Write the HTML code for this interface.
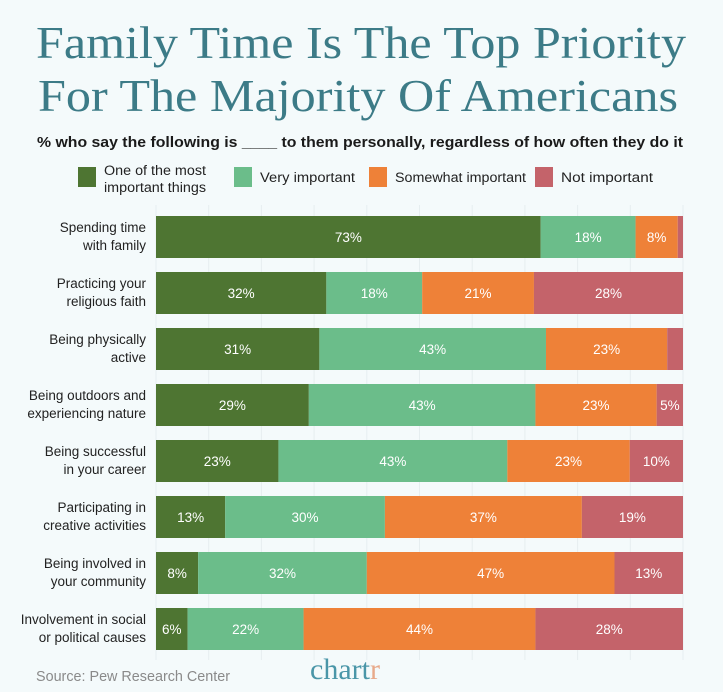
<!DOCTYPE html>
<html><head><meta charset="utf-8"><style>
html,body{margin:0;padding:0;background:#f4fafb;}
svg{display:block;font-family:"Liberation Sans",sans-serif;}
</style></head><body>
<svg id="chart" width="723" height="692" viewBox="0 0 723 692">
<rect width="723" height="692" fill="#f4fafb"/>
<text x="361" y="58" text-anchor="middle" font-family="Liberation Serif,serif" font-size="46" fill="#3c7b87" textLength="650" lengthAdjust="spacingAndGlyphs">Family Time Is The Top Priority</text>
<text x="358" y="111" text-anchor="middle" font-family="Liberation Serif,serif" font-size="46" fill="#3c7b87" textLength="640" lengthAdjust="spacingAndGlyphs">For The Majority Of Americans</text>
<text x="360" y="147" text-anchor="middle" font-size="14.5" font-weight="bold" fill="#1a1a1a" textLength="646" lengthAdjust="spacingAndGlyphs">% who say the following is ____ to them personally, regardless of how often they do it</text>
<g id="legend"></g>
<g id="grid"></g>
<g id="bars"></g>
<text x="36" y="681" font-size="14.5" fill="#8a8a8a" textLength="194" lengthAdjust="spacingAndGlyphs">Source: Pew Research Center</text>
<text x="310" y="679" font-family="Liberation Serif,serif" font-size="30" fill="#4a96a8">chart<tspan fill="#e8a98a">r</tspan></text>
</svg>
<script>
const categories = [["Spending time","with family"],["Practicing your","religious faith"],["Being physically","active"],["Being outdoors and","experiencing nature"],["Being successful","in your career"],["Participating in","creative activities"],["Being involved in","your community"],["Involvement in social","or political causes"]];
const mostImportant = [73,32,31,29,23,13,8,6];
const veryImportant = [18,18,43,43,43,30,32,22];
const somewhatImportant = [8,21,23,23,23,37,47,44];
const notImportant = [1,28,3,5,10,19,13,28];
const seriesNames = ["One of the most important things","Very important","Somewhat important","Not important"];
const colors = ["#4e7532","#6bbd8a","#ee8138","#c4636a"];
const NS = "http://www.w3.org/2000/svg";
const x0 = 156, x1 = 683, rowTop = 216, pitch = 56, barH = 42;
function mk(tag, attrs, parent){const e=document.createElementNS(NS,tag);for(const k in attrs)e.setAttribute(k,attrs[k]);parent.appendChild(e);return e;}
function xScale(frac){return x0 + frac*(x1-x0);}
function yScale(i){return rowTop + i*pitch;}
const grid = document.getElementById('grid');
for(let g=0; g<=10; g++){
  const gl = mk('line',{x1:xScale(g/10),x2:xScale(g/10),y1:205,y2:660,stroke:'#e6eef0','stroke-width':1},grid);
  
  
}
const leg = document.getElementById('legend');
const legX = [78,234,369,535];
const legW = [[102,102],[95],[131],[92]];
const legLabels = [["One of the most","important things"],["Very important"],["Somewhat important"],["Not important"]];
legLabels.forEach((lab,i)=>{
  const r = mk('rect',{x:legX[i],y:167,width:18,height:20,fill:colors[i]},leg);
  
  
  const t = mk('text',{x:legX[i]+26,y:lab.length>1?175:182,'font-size':13.5,fill:'#222'},leg);
  
  
  lab.forEach((l,k)=>{const ts=mk('tspan',{x:legX[i]+26,dy:k?17:0,textLength:legW[i][k],lengthAdjust:'spacingAndGlyphs'},t);ts.textContent=l;});
});
const bars = document.getElementById('bars');
const series = [mostImportant, veryImportant, somewhatImportant, notImportant];
categories.forEach((cat,i)=>{
  const y = yScale(i);
  const lbl = mk('text',{x:146,y:y+16,'text-anchor':'end','font-size':13.5,fill:'#222'},bars);
  
  
  cat.forEach((l,k)=>{const ts=mk('tspan',{x:146,dy:k?18:0},lbl);ts.textContent=l;});
  const total = series.reduce((s,a)=>s+a[i],0);
  let cum = 0;
  series.forEach((arr,j)=>{
    const v = arr[i];
    const xa = xScale(cum/total), xb = xScale((cum+v)/total);
    const r = mk('rect',{x:xa,y:y,width:Math.max(0,xb-xa),height:barH,fill:colors[j]},bars);
    
    
    if(v>=5){
      const t = mk('text',{x:(xa+xb)/2,y:y+barH/2+5,'text-anchor':'middle','font-size':13.5,fill:'#fff'},bars);
      
      
      t.textContent = v+'%';
    }
    cum += v;
  });
});
</script>
</body></html>
